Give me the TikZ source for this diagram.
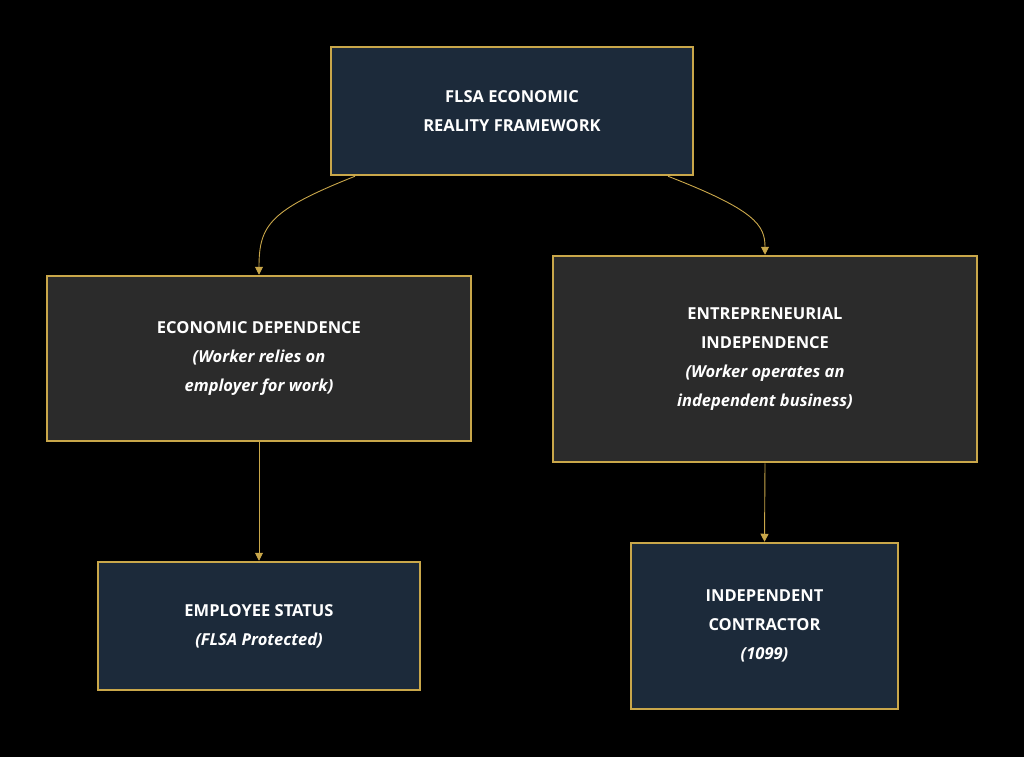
\documentclass[tikz,border=0pt]{standalone}
\usepackage{fontspec}
\setmainfont{Open Sans}
\usetikzlibrary{arrows.meta, positioning}
\definecolor{gold}{HTML}{C9A74A}
\definecolor{navy}{HTML}{1C2A3A}
\definecolor{charcoal}{HTML}{2B2B2B}
\begin{document}
\begin{tikzpicture}[x=1pt, y=-1pt,
    box/.style={rectangle, draw=gold, line width=2.5pt, text=white, align=center,
      font=\fontsize{16.5}{29}\selectfont\bfseries, inner sep=0pt},
    term/.style={box, fill=navy},
    mid/.style={box, fill=charcoal},
    link/.style={draw=gold, line width=0.9pt, -{Triangle[length=8pt, width=8pt]}}]
    \fill[black] (0,0) rectangle (1024,757);

    % Nodes
    \node[term, minimum width=362pt, minimum height=128pt] (frame) at (512,111) {FLSA ECONOMIC\\REALITY FRAMEWORK};
    \node[mid, minimum width=424pt, minimum height=165pt] (dep) at (259,358.5) {ECONOMIC DEPENDENCE\\\itshape (Worker relies on\\\itshape employer for work)};
    \node[mid, minimum width=424pt, minimum height=206pt] (indep) at (765,359) {ENTREPRENEURIAL\\INDEPENDENCE\\\itshape (Worker operates an\\\itshape independent business)};
    \node[term, minimum width=322pt, minimum height=128pt] (emp) at (259,626) {EMPLOYEE STATUS\\\itshape (FLSA Protected)};
    \node[term, minimum width=267pt, minimum height=166pt] (ic) at (764.5,626) {INDEPENDENT\\CONTRACTOR\\\itshape (1099)};

    % Connectors
    \draw[link] ([xshift=-157pt]frame.south) .. controls (270,210) and (259,225) .. (dep.north);
    \draw[link] ([xshift=156pt]frame.south) .. controls (755,210) and (765,225) .. (indep.north);
    \draw[link] (dep.south) -- (emp.north);
    \draw[link] (indep.south) -- (ic.north);
\end{tikzpicture}
\end{document}
